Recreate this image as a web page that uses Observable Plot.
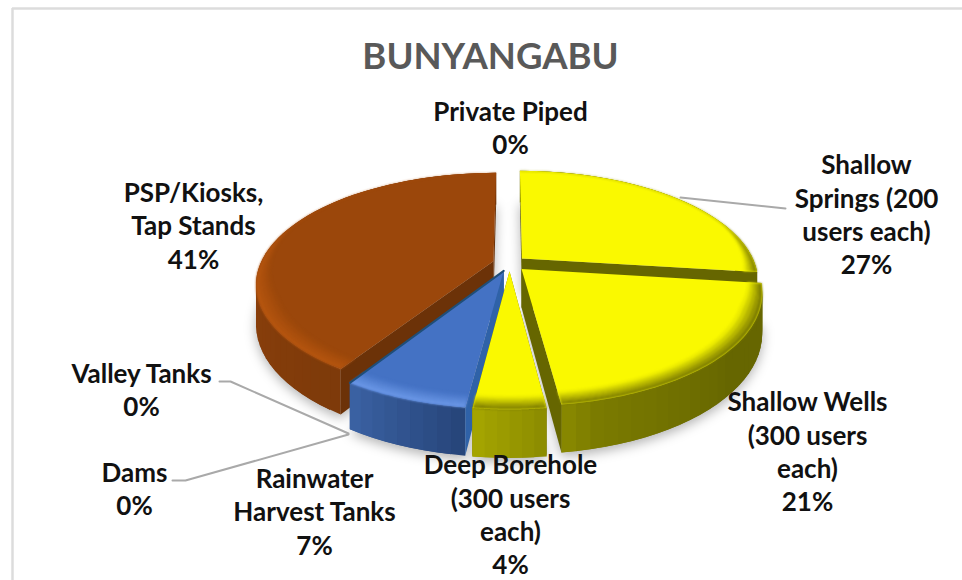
<!DOCTYPE html>
<html><head><meta charset="utf-8">
<script src="https://cdn.jsdelivr.net/npm/d3@7"></script>
<script src="https://cdn.jsdelivr.net/npm/@observablehq/plot@0.6"></script>
<style>html,body{margin:0;padding:0;background:#fff;overflow:hidden}svg{display:block}</style>
</head><body><div id="chart"></div>
<script>
const title = "BUNYANGABU";
const categories = ["Shallow Springs (200 users each)","Shallow Wells (300 users each)","Deep Borehole (300 users each)","Rainwater Harvest Tanks","Dams","Valley Tanks","PSP/Kiosks, Tap Stands","Private Piped"];
const shares = [27,21,4,7,0,0,41,0];
const wrappedLabels = ["Shallow\nSprings (200\nusers each)","Shallow Wells\n(300 users\neach)","Deep Borehole\n(300 users\neach)","Rainwater\nHarvest Tanks","Dams","Valley Tanks","PSP/Kiosks,\nTap Stands","Private Piped"];
const palette = ["yellow","yellow","yellow","blue","blue","blue","brown","blue"];

// Layout, separate from the data
const labelX = [866,807,510,314,134,141,193,510];
const labelY = [213,450,513,510,487,388,224,126];
const leaders = [
  {id:"springs",pts:[[680,197],[785,208]]},
  {id:"valley",pts:[[219,381],[230,381],[348,433]]},
  {id:"dams",pts:[[172,480],[185,480],[348,434]]}
];
const ramps = {
  yellow:{top:"#faf900",rim:"#6f6f00",face:"#666600",wallAt:[90,130,165,175,187],wall:["#666600","#666600","#7a7a00","#8f8f00","#a6a600"]},
  blue:{top:"#4472c4",rim:"#6f9bea",face:"#2f62a8",edge:"#1f4e79",wallAt:[187,212],wall:["#264478","#3b62a4"]},
  brown:{top:"#9b470b",rim:"#b8560f",face:"#6c3208",wallAt:[212,260,290],wall:["#7d3a0a","#8a3f0b","#7e3a0a"]}
};

// Perspective view of the pie: a circle on a tilted plane
const cx=509, cy=263, R=233, S=107, T=38, p=0.20, explode=0.072;
const rad=d=>d*Math.PI/180;
const dir=a=>[Math.sin(rad(a)),Math.cos(rad(a))];
function proj(u,v,drop=0){const k=1/(1+p*v);return [cx+R*u*k, cy-S*v*k+drop*T*k];}

const total=d3.sum(shares);
let acc=0;
const slices=categories.map((c,i)=>{const a0=acc/total*360;acc+=shares[i];const a1=acc/total*360;
  const m=dir((a0+a1)/2);return {name:c,a0,a1,ox:m[0]*explode,oy:m[1]*explode,ramp:ramps[palette[i]],mv:m[1]};})
  .filter(s=>s.a1>s.a0);
const order=d3.sort(slices,s=>-s.mv);

// Every slice gets its own layer so that painter's order is kept between the solid parts and the blurred bevel
const layers=[], shadow=[];
let pid=0;
function addPoly(list,ring,color){const id=pid++;ring.forEach(([x,y])=>list.push({x,y,id,color}));}
for(const s of order){
  const solid=[],bevel=[],edges=[],tops=[];
  const pt=(a,r,drop=0)=>{const d=dir(a);return proj(s.ox+d[0]*r,s.oy+d[1]*r,drop);};
  const arc=(r,drop,rf)=>d3.range(0,61).map(t=>{const a=s.a0+(s.a1-s.a0)*t/60;return pt(a,rf?rf(a):r,drop);});
  const A=proj(s.ox,s.oy), Ad=proj(s.ox,s.oy,1);
  addPoly(shadow,[Ad,...arc(1,1.08)],"#000");
  const stepN=Math.max(6,Math.ceil((s.a1-s.a0)/3));
  const wallColor=d3.scaleLinear().domain(s.ramp.wallAt).range(s.ramp.wall).interpolate(d3.interpolateRgb).clamp(true);
  const cam=[0,-1/p];
  const faceVisible=(a,off)=>{const n=dir(a+off);return n[0]*(cam[0]-s.ox)+n[1]*(cam[1]-s.oy)>0;};
  const hidden=[],visible=[];
  [[s.a0,-90],[s.a1,90]].forEach(([a,off])=>{(faceVisible(a,off)?visible:hidden).push(a);});
  const face=a=>addPoly(solid,[A,pt(a,1),pt(a,1,1),Ad],s.ramp.face);
  hidden.forEach(face);
  const step=(s.a1-s.a0)/stepN;
  for(let i=0;i<stepN;i++){
    const a=s.a0+step*i,b=Math.min(s.a1,a+step*2); // each strip runs under the next, which removes the seams
    addPoly(solid,[pt(a,1),pt(b,1),pt(b,1,1),pt(a,1,1)],d3.color(wallColor(a+step/2)).formatHex());
  }
  visible.forEach(face);
  addPoly(tops,[A,...arc(1,0)],s.ramp.top);
  const rings=5, bw=a=>{const v=dir(a)[1];return 0.01+0.07*Math.max(0,Math.min(1,(0.35-v)/0.7));};
  for(let j=0;j<rings;j++){
    const f0=1-j/rings,f1=1-(j+1)/rings;
    const inner=arc(0,0,a=>1-bw(a)*f0), outer=arc(0,0,a=>1-bw(a)*f1);
    const c=d3.interpolateRgb(s.ramp.top,s.ramp.rim)((j+.5)/rings);
    addPoly(bevel,[...inner,...outer.reverse()],d3.color(c).formatHex());
  }
  if(s.ramp.edge){const id=pid++;[A,pt(s.a1,1)].forEach(([x,y])=>edges.push({x,y,id,color:s.ramp.edge}));}
  layers.push(
    Plot.line(solid,{x:"x",y:"y",z:"id",fill:"color",stroke:"none",curve:"linear-closed"}),
    Plot.line(tops,{x:"x",y:"y",z:"id",fill:"color",stroke:"none",curve:"linear-closed"}),
    Plot.line(bevel,{x:"x",y:"y",z:"id",fill:"color",stroke:"none",curve:"linear-closed",imageFilter:"blur(1.1px)"}),
    Plot.line(edges,{x:"x",y:"y",z:"id",stroke:"color",strokeWidth:2})
  );
}
const leaderPts=leaders.flatMap(l=>l.pts.map(([x,y])=>({x,y,id:l.id})));
const labels=categories.map((c,i)=>({text:wrappedLabels[i]+"\n"+shares[i]+"%",x:labelX[i],y:labelY[i]}));

const chart=Plot.plot({
  width:962,height:580,margin:0,
  x:{domain:[0,962],range:[0,962],axis:null},
  y:{domain:[0,580],range:[0,580],axis:null},
  color:{type:"identity"},
  style:{background:"#fff",overflow:"hidden"},
  marks:[
    Plot.ruleY([8],{x1:12,x2:962,stroke:"#dcdcdc",strokeWidth:2.5}),
    Plot.ruleX([12],{y1:8,y2:580,stroke:"#dcdcdc",strokeWidth:2.5}),
    Plot.line(shadow,{x:"x",y:"y",z:"id",fill:"#000",stroke:"none",fillOpacity:0.3,imageFilter:"blur(6px)"}),
    ...layers,
    Plot.line(leaderPts,{x:"x",y:"y",z:"id",stroke:"#a9a9a9",strokeWidth:2}),
    Plot.text(labels,{x:"x",y:"y",text:"text",textAnchor:"middle",lineAnchor:"middle",lineHeight:1.283,
      fontFamily:"Lato",fontWeight:700,fontSize:26,fill:"#111"}),
    Plot.text([title],{x:()=>490,y:()=>57,text:d=>d,textAnchor:"middle",fontFamily:"Lato",fontWeight:700,fontSize:36.5,fill:"#595959"})
  ]
});
document.getElementById("chart").append(chart);
</script></body></html>
